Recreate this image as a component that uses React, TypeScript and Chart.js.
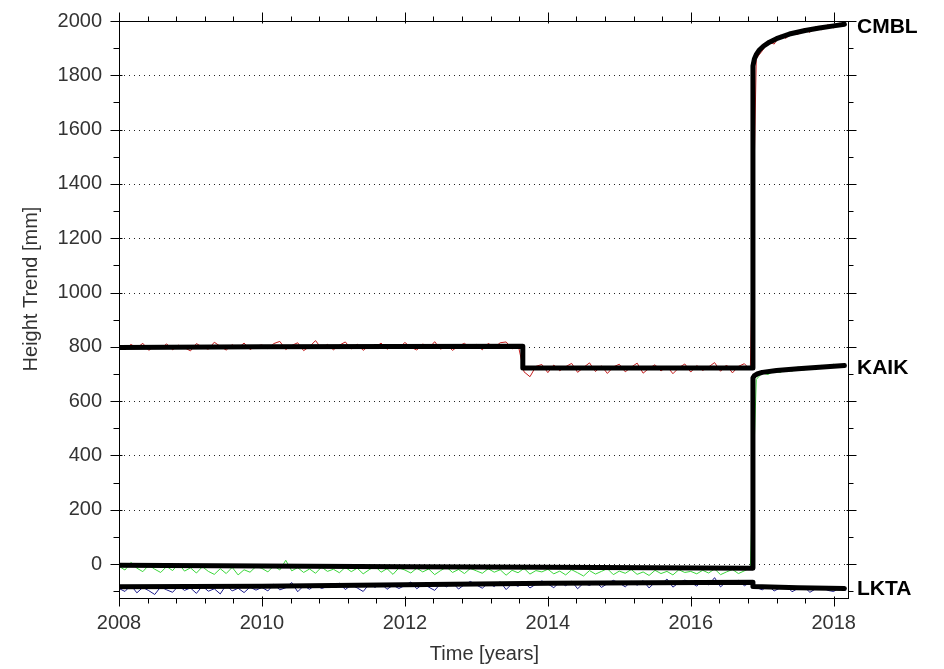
import React, { useEffect, useRef } from "react";
import { Chart, registerables } from "chart.js";

Chart.register(...registerables);

// ---- axis ticks ----
const yTicks = [0, 200, 400, 600, 800, 1000, 1200, 1400, 1600, 1800, 2000];
const yMinorTicks = [-100, 100, 300, 500, 700, 900, 1100, 1300, 1500, 1700, 1900];
const xTicks = [2008, 2010, 2012, 2014, 2016, 2018];
const xMinorTicks = [
  2008.4, 2008.8, 2009.2, 2009.6, 2010.4, 2010.8, 2011.2, 2011.6, 2012.4, 2012.8,
  2013.2, 2013.6, 2014.4, 2014.8, 2015.2, 2015.6, 2016.4, 2016.8, 2017.2, 2017.6,
];

// ---- station names ----
const stations = ["CMBL", "KAIK", "LKTA"];
const stationLabelValues = [1980, 726, -90];

// ---- monthly raw observations (time = 2008 + month/12) ----
const sampleCount = 123;
const sampleYears = Array.from({ length: sampleCount }, (_, i) => 2008 + i / 12);

const cmblRaw = [
  802, 791, 809, 796, 813, 787, 804, 794, 811, 789, 806, 797,
  785, 812, 799, 791, 817, 802, 788, 808, 795, 814, 790, 803,
  807, 793, 812, 820, 790, 805, 815, 786, 801, 823, 794, 809,
  789, 806, 818, 792, 810, 787, 804, 797, 814, 791, 808, 796,
  816, 799, 788, 811, 794, 819, 791, 807, 787, 803, 813, 795,
  809, 789, 813, 797, 815, 818, 792, 809, 708, 690, 728, 735,
  705, 733, 712, 727, 739, 706, 724, 741, 709, 730, 702, 726,
  736, 708, 725, 740, 703, 721, 734, 711, 729, 701, 723, 737,
  707, 731, 713, 726, 742, 710, 733, 704, 728, 738, 715, 1862,
  1890, 1925, 1915, 1948, 1936, 1962, 1950, 1972, 1958, 1980, 1968, 1986,
  1975, 1992, 1984,
];

const kaikRaw = [
  -8, -22, 6, -15, -28, -4, -19, -31, -9, -24, 2, -26,
  -14, -33, -10, -27, -38, -17, -35, -12, -40, -21, -30, -9,
  -16, -29, -6, -22, 14, -25, -13, -31, -18, -34, -11, -27,
  -19, -32, -12, -28, -15, -36, -21, -8, -30, -17, -38, -14,
  -22, -33, -15, -29, -18, -39, -24, -11, -31, -20, -35, -16,
  -25, -34, -17, -30, -21, -41, -23, -32, -16, -37, -24, -29,
  -19, -36, -26, -40, -21, -32, -44, -24, -37, -27, -17, -39,
  -26, -34, -20, -38, -29, -42, -23, -35, -27, -40, -21, -31,
  -27, -36, -23, -33, -18, -39, -29, -20, -35, -25, -14, 680,
  704, 698, 713, 705, 720, 710, 726, 714, 728, 716, 732, 721,
  736, 725, 734,
];

const lktaRaw = [
  -90, -101, -78, -106, -86, -98, -112, -84, -95, -104, -80, -97,
  -88, -108, -81, -100, -91, -110, -77, -99, -89, -105, -85, -96,
  -86, -99, -74, -95, -87, -68, -102, -80, -93, -76, -90, -83,
  -81, -70, -94, -77, -88, -101, -74, -86, -71, -93, -78, -90,
  -79, -66, -91, -74, -85, -97, -72, -84, -68, -92, -76, -64,
  -77, -89, -70, -83, -65, -94, -72, -82, -67, -88, -74, -62,
  -73, -87, -66, -80, -63, -91, -70, -79, -64, -86, -72, -60,
  -70, -84, -64, -78, -61, -88, -67, -76, -55, -85, -69, -59,
  -68, -81, -62, -77, -50, -84, -65, -75, -60, -80, -68, -86,
  -95, -80, -99, -88, -78, -102, -90, -83, -104, -91, -84, -97,
  -101, -86, -98,
];

// ---- fitted height trends ----
const cmblTrendYears = [
  2008, 2010, 2013.65, 2013.65, 2016.87, 2016.87, 2016.89, 2016.92, 2016.96, 2017.02,
  2017.1, 2017.2, 2017.38, 2017.6, 2017.8, 2018.0, 2018.15,
];
const cmblTrendValues = [
  798, 800, 802, 722, 722, 1834, 1860, 1878, 1893, 1908,
  1922, 1935, 1952, 1965, 1974, 1982, 1988,
];

const kaikTrendYears = [2008, 2010, 2012, 2014, 2016.87, 2016.87, 2016.89, 2016.93, 2017.0, 2017.2, 2017.5, 2017.8, 2018.15];
const kaikTrendValues = [-4, -7, -10, -12, -15, 686, 694, 700, 706, 713, 719, 725, 731];

const lktaTrendYears = [2008, 2010, 2012, 2014, 2016.87, 2016.87, 2017.5, 2018.15];
const lktaTrendValues = [-84, -82, -76, -71, -67, -83, -87, -90];

const FONT = "'Liberation Sans', Arial, sans-serif";

const toPoints = (xs: number[], ys: number[]) => xs.map((x, i) => ({ x, y: ys[i] }));

const decorPlugin = {
  id: "decor",
  beforeDatasetsDraw(chart: any) {
    const { ctx, chartArea } = chart;
    const y = chart.scales.y;
    ctx.save();
    ctx.strokeStyle = "#222";
    ctx.lineWidth = 1;
    ctx.setLineDash([1, 4]);
    yTicks.forEach((v) => {
      const py = Math.round(y.getPixelForValue(v)) + 0.5;
      ctx.beginPath();
      ctx.moveTo(chartArea.left, py);
      ctx.lineTo(chartArea.right, py);
      ctx.stroke();
    });
    ctx.restore();
  },
  afterDatasetsDraw(chart: any) {
    const { ctx, chartArea } = chart;
    const xs = chart.scales.x;
    const ys = chart.scales.y;
    const L = Math.round(chartArea.left) + 0.5;
    const R = Math.round(chartArea.right) + 0.5;
    const T = Math.round(chartArea.top) + 0.5;
    const B = Math.round(chartArea.bottom) + 0.5;
    ctx.save();
    ctx.strokeStyle = "#000";
    ctx.lineWidth = 1;
    ctx.setLineDash([]);
    ctx.strokeRect(L, T, R - L, B - T);
    ctx.beginPath();
    const yTick = (v: number, major: boolean) => {
      const py = Math.round(ys.getPixelForValue(v)) + 0.5;
      ctx.moveTo(L - (major ? 9 : 6), py);
      ctx.lineTo(L + (major ? 3 : 0), py);
      ctx.moveTo(R - (major ? 2 : 0), py);
      ctx.lineTo(R + (major ? 8 : 5), py);
    };
    yTicks.forEach((v) => yTick(v, true));
    yMinorTicks.forEach((v) => yTick(v, false));
    const xTick = (v: number, major: boolean) => {
      const px = Math.round(xs.getPixelForValue(v)) + 0.5;
      ctx.moveTo(px, B - (major ? 2 : 0));
      ctx.lineTo(px, B + (major ? 8 : 5));
      ctx.moveTo(px, T + (major ? 2 : 0));
      ctx.lineTo(px, T - (major ? 9 : 5));
    };
    xTicks.forEach((v) => xTick(v, true));
    xMinorTicks.forEach((v) => xTick(v, false));
    ctx.stroke();

    // axis titles
    ctx.fillStyle = "#333";
    ctx.font = `20px ${FONT}`;
    ctx.textAlign = "center";
    ctx.textBaseline = "middle";
    ctx.fillText("Time [years]", (chartArea.left + chartArea.right) / 2 + 1, 654);
    ctx.save();
    ctx.translate(31, 289);
    ctx.rotate(-Math.PI / 2);
    ctx.fillText("Height Trend [mm]", 0, 0);
    ctx.restore();

    // station labels
    ctx.fillStyle = "#000";
    ctx.font = `bold 21px ${FONT}`;
    ctx.textAlign = "left";
    stations.forEach((s, i) => {
      ctx.fillText(s, chartArea.right + 9, ys.getPixelForValue(stationLabelValues[i]) + 1);
    });
    ctx.restore();
  },
};

export default function App() {
  const ref = useRef<HTMLCanvasElement | null>(null);

  useEffect(() => {
    if (!ref.current) return;
    const trendStyle = {
      borderColor: "#000",
      borderWidth: 5,
      borderJoinStyle: "round" as const,
      borderCapStyle: "round" as const,
      pointRadius: 0,
      fill: false,
      tension: 0,
      order: 0,
    };
    const rawStyle = {
      borderWidth: 1,
      pointRadius: 0,
      fill: false,
      tension: 0,
      order: 1,
    };
    const chart = new Chart(ref.current, {
      type: "line",
      data: {
        datasets: [
          { label: "CMBL trend", data: toPoints(cmblTrendYears, cmblTrendValues), ...trendStyle },
          { label: "KAIK trend", data: toPoints(kaikTrendYears, kaikTrendValues), ...trendStyle },
          { label: "LKTA trend", data: toPoints(lktaTrendYears, lktaTrendValues), ...trendStyle },
          { label: "CMBL", data: toPoints(sampleYears, cmblRaw), borderColor: "#c41e1e", ...rawStyle },
          { label: "KAIK", data: toPoints(sampleYears, kaikRaw), borderColor: "#3ad63a", ...rawStyle },
          { label: "LKTA", data: toPoints(sampleYears, lktaRaw), borderColor: "#1c1c8a", ...rawStyle },
        ],
      },
      options: {
        animation: false,
        responsive: false,
        events: [],
        layout: { padding: { top: 21, right: 96, left: 0, bottom: 0 } },
        plugins: { legend: { display: false }, tooltip: { enabled: false } },
        scales: {
          x: {
            type: "linear",
            min: 2008,
            max: 2018.2,
            grid: { display: false, drawTicks: false },
            border: { display: false },
            afterBuildTicks: (axis: any) => {
              axis.ticks = xTicks.map((v) => ({ value: v }));
            },
            afterFit: (axis: any) => {
              axis.height = 71;
              axis.paddingLeft = 0;
              axis.paddingRight = 0;
            },
            ticks: {
              autoSkip: false,
              maxRotation: 0,
              padding: 13,
              color: "#333",
              font: { family: FONT, size: 20 },
              callback: (v: any) => String(v),
            },
          },
          y: {
            type: "linear",
            min: -125,
            max: 2000,
            grid: { display: false, drawTicks: false },
            border: { display: false },
            afterBuildTicks: (axis: any) => {
              axis.ticks = yTicks.map((v) => ({ value: v }));
            },
            afterFit: (axis: any) => {
              axis.width = 119;
              axis.paddingTop = 0;
              axis.paddingBottom = 0;
            },
            ticks: {
              autoSkip: false,
              padding: 17,
              color: "#333",
              font: { family: FONT, size: 20 },
              callback: (v: any) => String(v),
            },
          },
        },
      },
      plugins: [decorPlugin],
    });
    return () => chart.destroy();
  }, []);

  return (
    <div style={{ position: "absolute", left: 0, top: 0, width: 944, height: 669, background: "#fff" }}>
      <canvas ref={ref} width={944} height={669} style={{ display: "block" }} />
    </div>
  );
}
